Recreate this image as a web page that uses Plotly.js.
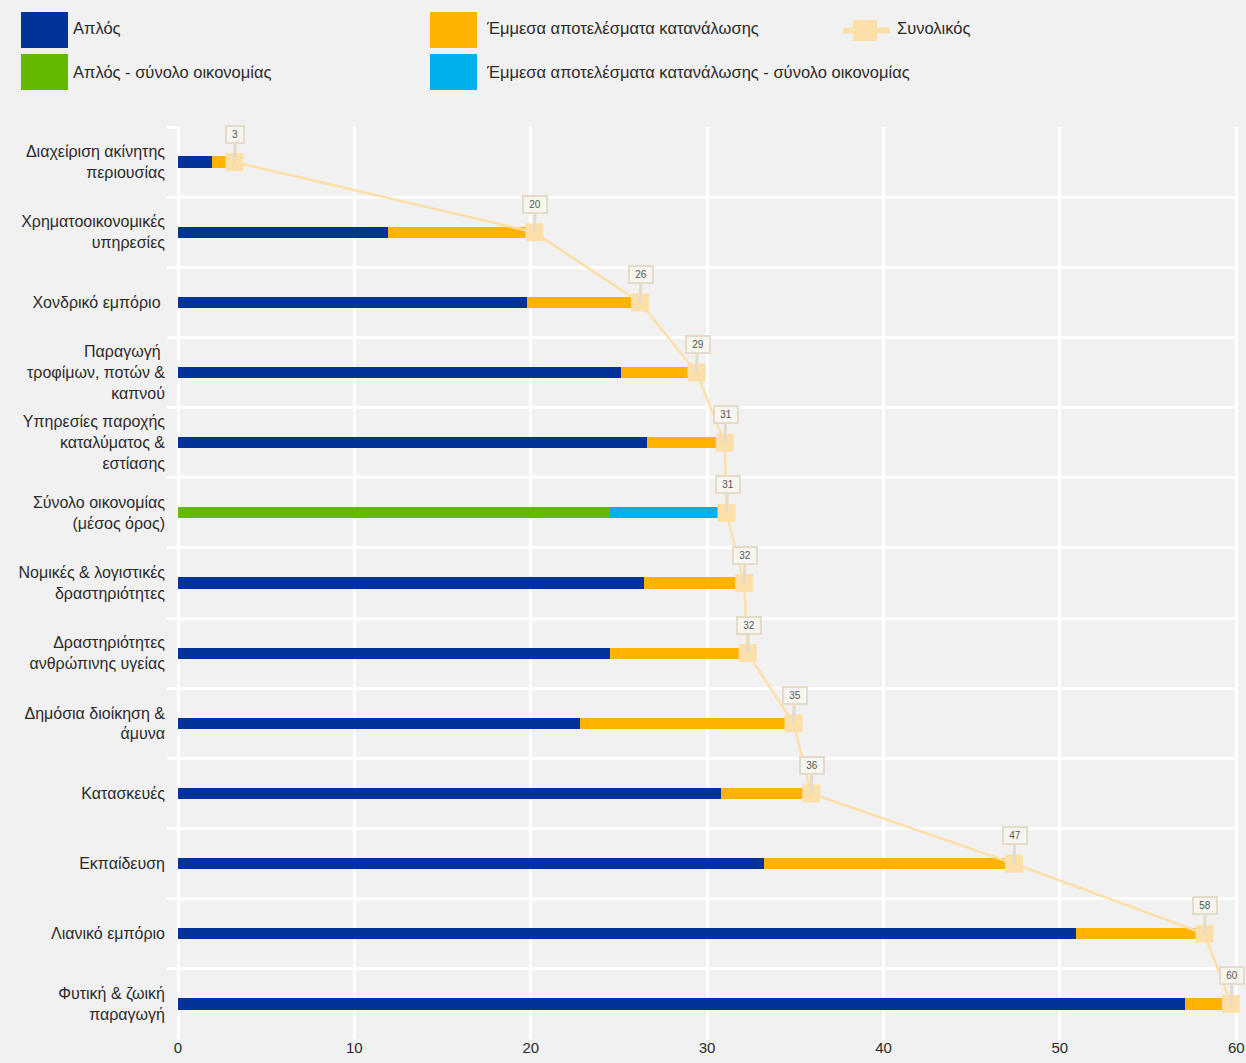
<!DOCTYPE html>
<html>
<head>
<meta charset="utf-8">
<script src="https://cdn.plot.ly/plotly-3.0.1.min.js"></script>
<style>
  html, body { margin: 0; padding: 0; background: #f1f1f1; }
  #chart { width: 1246px; height: 1063px; }
</style>
</head>
<body>
<div id="chart"></div>
<script>
// ---- data (top to bottom) ----
const categories = [
  "Διαχείριση ακίνητης<br>περιουσίας",
  "Χρηματοοικονομικές<br>υπηρεσίες",
  "Χονδρικό εμπόριο\u00a0",
  "Παραγωγή\u00a0<br>τροφίμων, ποτών &<br>καπνού",
  "Υπηρεσίες παροχής<br>καταλύματος &<br>εστίασης",
  "Σύνολο οικονομίας<br>(μέσος όρος)",
  "Νομικές & λογιστικές<br>δραστηριότητες",
  "Δραστηριότητες<br>ανθρώπινης υγείας",
  "Δημόσια διοίκηση &<br>άμυνα",
  "Κατασκευές",
  "Εκπαίδευση",
  "Λιανικό εμπόριο",
  "Φυτική & ζωική<br>παραγωγή"
];
const direct        = [1.9, 11.9, 19.8, 25.1, 26.6, null, 26.4, 24.5, 22.8, 30.8, 33.2, 50.9, 57.1];
const indirect      = [1.3, 8.3, 6.4, 4.3, 4.4, null, 5.7, 7.8, 12.1, 5.1, 14.2, 7.3, 2.6];
const directEcon    = [null, null, null, null, null, 24.5, null, null, null, null, null, null, null];
const indirectEcon  = [null, null, null, null, null, 6.6, null, null, null, null, null, null, null];
const total         = [3.2, 20.2, 26.2, 29.4, 31.0, 31.1, 32.1, 32.3, 34.9, 35.9, 47.4, 58.2, 59.7];
const xTicks        = [0, 10, 20, 30, 40, 50, 60];

const legendNames = {
  direct: "Απλός",
  indirect: "Έμμεσα αποτελέσματα κατανάλωσης",
  total: "Συνολικός",
  directEcon: "Απλός - σύνολο οικονομίας",
  indirectEcon: "Έμμεσα αποτελέσματα κατανάλωσης - σύνολο οικονομίας"
};

// ---- styles ----
const C = {
  blue: "#00339a", orange: "#ffb300", green: "#65b800", cyan: "#00b0ea",
  peach: "#fde0a9", bg: "#f1f1f1", text: "#2b2b2b",
  callBg: "#f7f5f0", callBorder: "#e4dbca"
};
const FONT = "'Liberation Sans', Arial, sans-serif";
const W = 1246, H = 1063;
const M = { l: 178, r: 8, t: 127, b: 24 };
const plotW = W - M.l - M.r, plotH = H - M.t - M.b;
const px = x => (x - M.l) / plotW;
const py = y => (H - M.b - y) / plotH;
const BW = 0.16;

const traces = [
  { type: "bar", orientation: "h", y: categories, x: direct, name: legendNames.direct,
    marker: { color: C.blue }, width: BW, showlegend: false, hoverinfo: "x+name" },
  { type: "bar", orientation: "h", y: categories, x: directEcon, name: legendNames.directEcon,
    marker: { color: C.green }, width: BW, showlegend: false, hoverinfo: "x+name" },
  { type: "bar", orientation: "h", y: categories, x: indirect, name: legendNames.indirect,
    marker: { color: C.orange }, width: BW, showlegend: false, hoverinfo: "x+name" },
  { type: "bar", orientation: "h", y: categories, x: indirectEcon, name: legendNames.indirectEcon,
    marker: { color: C.cyan }, width: BW, showlegend: false, hoverinfo: "x+name" },
  { type: "scatter", mode: "lines+markers", y: categories, x: total, name: legendNames.total,
    line: { color: C.peach, width: 2.5 },
    marker: { symbol: "square", size: 18, color: C.peach },
    showlegend: false, hoverinfo: "x+name", cliponaxis: false }
];

// callout labels
const annotations = total.map((v, i) => {
  const t = String(Math.round(v));
  return {
    x: v, y: categories[i], xref: "x", yref: "y",
    text: t, showarrow: true, ax: 1, ay: -28,
    arrowhead: 0, arrowwidth: 3, arrowcolor: C.callBorder,
    bgcolor: C.callBg, bordercolor: C.callBorder, borderwidth: 2, borderpad: 2,
    width: t.length > 1 ? 18 : 12,
    font: { family: FONT, size: 10, color: "#555" }
  };
});

// custom legend
const shapes = [];
const sw = [
  { key: "direct", color: C.blue, x0: 21, y0: 12, tx: 71, ty: 28 },
  { key: "directEcon", color: C.green, x0: 21, y0: 54, tx: 71, ty: 72 },
  { key: "indirect", color: C.orange, x0: 430, y0: 12, tx: 484, ty: 28 },
  { key: "indirectEcon", color: C.cyan, x0: 430, y0: 54, tx: 484, ty: 72 }
];
sw.forEach(s => {
  shapes.push({ type: "rect", xref: "paper", yref: "paper",
    x0: px(s.x0), x1: px(s.x0 + 47), y0: py(s.y0), y1: py(s.y0 + 36),
    fillcolor: s.color, line: { width: 0 } });
  annotations.push({ xref: "paper", yref: "paper", x: px(s.tx), y: py(s.ty),
    xanchor: "left", yanchor: "middle", showarrow: false, text: legendNames[s.key],
    font: { family: FONT, size: 16.5, color: C.text } });
});
shapes.push({ type: "rect", xref: "paper", yref: "paper",
  x0: px(843), x1: px(890), y0: py(27.5), y1: py(33.5), fillcolor: C.peach, line: { width: 0 } });
shapes.push({ type: "rect", xref: "paper", yref: "paper",
  x0: px(853), x1: px(877), y0: py(20), y1: py(41), fillcolor: C.peach, line: { width: 0 } });
annotations.push({ xref: "paper", yref: "paper", x: px(895), y: py(28),
  xanchor: "left", yanchor: "middle", showarrow: false, text: legendNames.total,
  font: { family: FONT, size: 16.5, color: C.text } });

const layout = {
  width: W, height: H,
  margin: M,
  paper_bgcolor: C.bg, plot_bgcolor: C.bg,
  barmode: "stack",
  showlegend: false,
  font: { family: FONT, size: 16, color: C.text },
  xaxis: {
    range: [0, 60.1], tickvals: xTicks, ticktext: xTicks.map(String),
    showgrid: true, gridcolor: "#ffffff", gridwidth: 3,
    zeroline: true, zerolinecolor: "#ffffff", zerolinewidth: 3,
    ticks: "", ticklabelstandoff: -2,
    tickfont: { family: FONT, size: 15, color: C.text },
    fixedrange: true
  },
  yaxis: {
    type: "category", autorange: false, range: [12.5, -0.5],
    categoryorder: "array", categoryarray: categories,
    tickson: "boundaries", ticks: "outside", ticklen: 10, tickwidth: 3, tickcolor: "#ffffff",
    ticklabelstandoff: 12,
    showgrid: true, gridcolor: "#ffffff", gridwidth: 3,
    tickfont: { family: FONT, size: 16, color: C.text },
    fixedrange: true
  },
  shapes: shapes,
  annotations: annotations
};

Plotly.newPlot("chart", traces, layout, { displayModeBar: false });
</script>
</body>
</html>
